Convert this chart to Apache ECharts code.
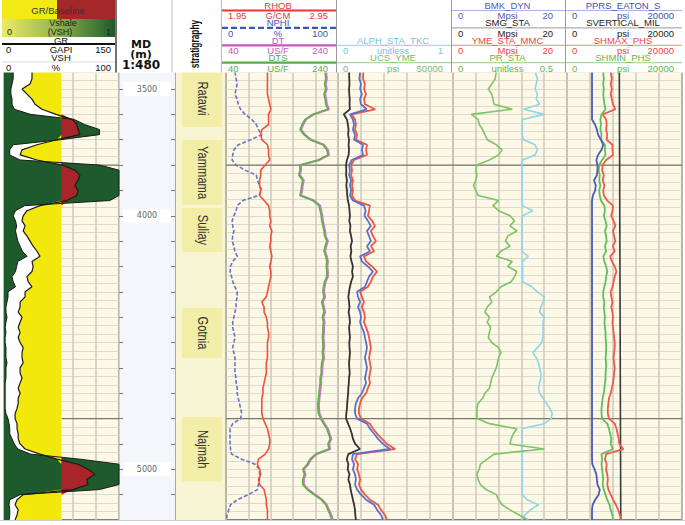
<!DOCTYPE html>
<html><head><meta charset="utf-8"><title>Well log</title>
<script src="https://cdn.jsdelivr.net/npm/echarts@6.0.0/dist/echarts.min.js"></script>
<style>html,body{margin:0;padding:0;background:#fff;}#chart{width:685px;height:525px;}</style>
</head><body><div id="chart"></div>
<script>
// ---------- DATA (depth in m) ----------
const depthM = [3432,3460,3480,3500,3520,3540,3560,3580,3600,3620,
3640,3660,3680,3700,3720,3740,3760,3780,3800,3820,
3840,3860,3880,3900,3920,3940,3960,3980,4000,4020,
4040,4060,4080,4100,4120,4140,4160,4180,4200,4220,
4240,4260,4280,4300,4320,4340,4360,4380,4400,4420,
4440,4460,4480,4500,4520,4540,4560,4580,4600,4620,
4640,4660,4680,4700,4720,4740,4760,4780,4800,4820,
4840,4860,4880,4900,4920,4940,4960,4980,5000,5020,
5040,5060,5080,5100,5120,5140,5160,5180,5200];

const grBaseline = 75;
const grGapi = [36.5,36.5,34,23.5,30,36.5,40.5,49.5,68,89,
95,96.5,99,69,43,23.5,21,43,76,92.5,
99,96.5,92.5,96.5,95,82,47,30,25,23.5,
27.5,25,30,34,38,43,47,36.5,38,36.5,
30,31.5,36.5,27.5,27.5,21,21,18.5,23.5,21,
18.5,21,18.5,21,25,23.5,23.5,25,21,21,
23.5,21,18.5,21,18.5,18.5,17,14.5,14.5,17,
17,18.5,18.5,21,27.5,47,69,96.5,109.5,118.5,
108,109.5,90,25,17,14.5,18.5,17,14.5];

const vshPct = [8,8,7,6,6,7,7,9,23,61,
70,83,83,49,8,5,5,14,83,100,
100,100,100,100,100,92,18,10,8,10,
11,10,11,12,14,16,20,12,11,10,
7,8,10,3.5,3.5,2.6,1.7,1.7,2.6,1.7,
1,1.7,1,1,1.7,1.7,1.7,2.6,1.7,1.7,
1.7,1,1,1,1,1,1,1.7,3.5,4.4,
5,5,7,9,12,23,66,100,100,100,
100,100,83,14,5,4.4,5,5,4.4];

const nphiPct = [8,9,10,9,8,10,11,13,17,23,
27,29,32,22,11,7,6,5.5,9,17,
27,28,30,32,29,15,10,9,7,5.5,
6,7,6,5.5,7,8,10,6,4,3.6,
5,6,8,10,10,9,9,8,7,6,
6,7,8,7,6,7,8,8,8,8,
9,9,10,10,11,12,13,14,13,6,
3.6,3.6,3.6,3.6,4,5,14,26,30,30,
30,29,28,20,10,4,2.5,1,0.5];

const rhob = [2.32,2.32,2.32,2.32,2.32,2.33,2.34,2.35,2.33,2.33,
2.33,2.27,2.26,2.27,2.32,2.33,2.33,2.34,2.30,2.26,
2.26,2.25,2.25,2.26,2.25,2.29,2.33,2.34,2.34,2.35,
2.34,2.36,2.35,2.35,2.34,2.35,2.36,2.35,2.34,2.35,
2.35,2.34,2.33,2.32,2.31,2.27,2.29,2.29,2.31,2.32,
2.32,2.33,2.33,2.32,2.32,2.32,2.32,2.31,2.31,2.31,
2.30,2.29,2.28,2.28,2.27,2.27,2.27,2.27,2.28,2.30,
2.32,2.33,2.34,2.34,2.33,2.30,2.24,2.23,2.25,2.26,
2.24,2.25,2.29,2.30,2.31,2.31,2.32,2.32,2.32];

const dtUsf = [219,220,218,220,217,219,220,224,197,183,
178,174,181,192,215,222,224,207,174,174,
172,179,177,176,174,197,208,210,212,213,
215,217,218,222,219,217,220,222,221,222,
222,218,216,215,217,213,215,217,214,216,
215,215,214,215,215,214,215,213,212,212,
210,210,209,208,207,206,206,207,211,216,
222,225,228,224,226,202,192,187,179,182,
179,179,187,199,212,220,224,228,231];

const dtsUsf = [217,218,216,218,215,217,218,222,195,181,
176,172,179,190,213,220,222,205,172,172,
170,177,175,174,172,195,206,208,210,211,
213,215,216,220,217,215,218,220,219,220,
220,216,214,213,215,211,213,215,212,214,
213,213,212,213,213,212,213,211,210,210,
208,208,207,206,205,204,204,205,209,214,
220,223,226,222,224,200,190,185,177,180,
177,177,185,197,210,218,222,226,229];

// track 4 curves (psi, 0-50000)
const trk4Black = [4800,4900,5000,4800,4900,5100,5000,5200,2500,3900,
4300,4600,4400,4800,4600,4800,4600,3900,3500,3600,
3500,3900,3600,3900,4000,4300,4800,5000,5200,4900,
5400,5200,5700,6100,5500,5800,5400,5900,6500,6100,
6500,5700,5200,4800,4500,4800,5000,4600,5000,5200,
4800,5000,5200,4900,5000,5200,5000,4800,4900,5100,
4800,4700,4500,4400,4200,4000,3900,3600,3500,4400,
5300,6000,6500,7500,9500,4500,3800,4500,4200,5000,
4500,5200,5500,6000,6500,7000,7400,7500,7800];

const trk4Blue = [9600,9300,10000,9600,10400,9600,10000,12500,5200,6500,
7000,6500,7400,7000,10900,10400,10900,6000,4800,5200,
4800,5700,5200,5700,5200,6500,11300,12000,11500,13000,
14300,12600,13500,14300,12600,13900,9600,10400,13000,15200,
13500,12600,11700,8300,8700,9600,8700,9600,10000,9600,
10400,11300,11700,12200,12600,12200,11700,12200,12600,12200,
11700,12200,11300,10400,8700,7800,7400,7400,8300,12600,
13900,15700,17400,19600,22600,6500,6100,7000,6500,7400,
7800,7400,8300,10000,12200,15700,17000,18700,19600];

const trk4Red = [11000,10900,11700,11300,12200,11300,11700,16100,6000,7400,
7800,7400,8300,7800,12600,12200,12600,7000,5700,6100,
5700,6500,6100,6500,6100,7400,13900,13500,13000,14800,
16100,14300,15200,16500,14300,15700,11300,12200,14800,17000,
15200,14300,13000,9600,10400,11300,10400,11300,11700,11300,
12200,13000,13500,13900,14300,13900,13500,13900,14300,13900,
13500,13900,13000,12200,10400,9600,9100,9100,10000,13900,
15200,17000,19100,21300,24800,8300,7400,8700,8300,9100,
9600,9100,10000,11700,13900,17400,18700,20400,21300];

// track 5
const prSta = [0.19,0.185,0.17,0.155,0.17,0.175,0.18,0.26,0.08,0.11,
0.115,0.13,0.14,0.15,0.19,0.215,0.2,0.16,0.105,0.1,
0.105,0.1,0.09,0.1,0.11,0.2,0.175,0.2,0.25,0.27,
0.25,0.28,0.24,0.23,0.25,0.21,0.19,0.26,0.24,0.28,
0.27,0.255,0.21,0.19,0.16,0.17,0.15,0.14,0.16,0.15,
0.165,0.16,0.155,0.17,0.2,0.21,0.2,0.195,0.19,0.18,
0.17,0.165,0.16,0.14,0.13,0.11,0.105,0.105,0.105,0.16,
0.28,0.265,0.255,0.25,0.4,0.18,0.15,0.12,0.115,0.105,
0.11,0.12,0.145,0.19,0.2,0.215,0.25,0.29,0.33];

const trk5Cyan = [0.72,0.74,0.73,0.72,0.74,0.73,0.76,0.62,0.8,0.61,
0.605,0.605,0.605,0.62,0.72,0.74,0.72,0.61,0.605,0.605,
0.605,0.605,0.605,0.605,0.605,0.605,0.61,0.7,0.61,0.605,
0.605,0.605,0.605,0.605,0.605,0.605,0.66,0.61,0.61,0.61,
0.61,0.61,0.69,0.74,0.8,0.79,0.77,0.76,0.8,0.79,
0.79,0.79,0.79,0.78,0.74,0.7,0.73,0.75,0.76,0.77,
0.77,0.76,0.75,0.76,0.79,0.82,0.85,0.87,0.86,0.8,
0.605,0.605,0.605,0.605,0.605,0.605,0.605,0.605,0.605,0.605,
0.605,0.605,0.605,0.605,0.65,0.75,0.68,0.63,0.605];

// track 6 (psi, 0-20000)
const pprsPsi = [4350,4350,4350,4350,4350,4350,4350,4350,4350,4350,
4870,5200,5400,5900,6300,6000,5400,5100,5300,5300,
5200,4700,5000,4900,4500,4350,4350,4350,4350,4350,
4350,4350,4350,4350,4350,4350,4350,4350,4350,4350,
4350,4350,4350,4350,4350,4350,4350,4350,4350,4350,
4350,4350,4350,4350,4350,4350,4350,4350,4350,4350,
4350,4350,4350,4350,4350,4350,4350,4350,4350,4350,
4350,4350,4350,4350,4350,4350,4350,4400,4800,5100,
5200,5300,5700,5500,4900,4450,4350,4350,4350];

const shminPsi = [6300,6400,6300,6400,6300,6400,6500,6700,6000,5800,
5900,5800,6000,5900,6600,6600,6700,6100,5600,5500,
5700,5600,5800,5600,5700,5900,6500,6600,6400,6700,
6900,6600,6800,6900,6600,6800,6300,6500,6800,7000,
6800,6700,6500,6300,6300,6500,6400,6500,6600,6500,
6600,6700,6700,6800,6800,6800,6700,6800,6800,6700,
6700,6600,6500,6400,6200,6100,6000,6000,6100,7000,
7300,7500,7700,7600,8000,6000,6100,6000,6100,6200,
6300,6200,6400,6700,7000,7400,7600,7900,8000];

const shmaxPsi = [7600,7800,7600,7800,7600,7800,8000,8400,6200,6800,
6900,6800,7000,6900,7900,7900,8000,6800,6200,6100,
6400,6200,6500,6300,6400,7000,8000,7900,7700,8100,
8400,8000,8200,8400,8000,8300,7500,7800,8300,8600,
8300,8100,7900,7600,7700,7900,7700,7900,8000,7900,
8000,8100,8200,8300,8300,8200,8100,8200,8300,8200,
8100,8000,7800,7600,7300,7200,7100,7100,7300,8300,
8600,8800,9000,9100,9800,6800,6600,6900,6800,7000,
7100,7000,7200,7600,8000,8500,8900,9200,9400];

const svDepth = [3432, 5200];
const svPsi = [9100, 9350];

const stratNames = ['Ratawi','Yammama','Suliay','Gotnia','Najmah'];
const stratTop  = [3425, 3701, 3969, 4364, 4794];
const stratBase = [3650, 3958, 4143, 4561, 5048];

const depthLabels = [3500, 4000, 5000];
const markDepths = [3800, 4800];

// ---------- CHART ----------
const chart = echarts.init(document.getElementById('chart'), null, {renderer: 'svg'});
const TOP = 63.65, H = 456.35;
const CREAM = '#fdf9e6';
const FONT = '"Liberation Sans", Arial, sans-serif';
const HFS = 9.5; // header font size

function gridDef(left, width, bg, border) {
  return {left, width, top: TOP, height: H, show: true, backgroundColor: bg,
    borderColor: '#555', borderWidth: border ? 1.5 : 0};
}
const grid = [
  gridDef(4, 115, CREAM, true),
  gridDef(119, 56, '#f5f6fa', false),
  gridDef(175, 50, '#f8f5d2', false),
  gridDef(226, 112, CREAM, true),
  gridDef(338, 115, CREAM, true),
  gridDef(453, 114, CREAM, true),
  gridDef(567, 115, CREAM, true)
];

const xGrid = gi => ({type: 'value', gridIndex: gi, min: 0, max: 5, interval: 1,
  axisLine: {show: false}, axisTick: {show: false}, axisLabel: {show: false},
  splitLine: {show: true, lineStyle: {color: '#c9c8bd', width: 1.5}}});
const xHid = (gi, min, max) => ({type: 'value', gridIndex: gi, min, max, show: false});
const xAxis = [
  xGrid(0), xHid(0, 0, 150), xHid(0, 0, 100),
  xHid(1, 0, 1), xHid(2, 0, 1),
  xGrid(3), xHid(3, 1.95, 2.95), xHid(3, 0, 100), xHid(3, 40, 240),
  xGrid(4), xHid(4, 0, 50000),
  xGrid(5), xHid(5, 0, 0.5), xHid(5, 0, 1),
  xGrid(6), xHid(6, 0, 20000)
];

const yBase = {type: 'value', min: 3400, max: 5200, inverse: true, interval: 100 / 3,
  axisLine: {show: false}, axisTick: {show: false}, axisLabel: {show: false},
  splitLine: {show: true, lineStyle: {color: '#dddbcf', width: 1}}};
const yAxis = [
  Object.assign({}, yBase, {gridIndex: 0}),
  Object.assign({}, yBase, {gridIndex: 1, interval: 100, splitLine: {show: false},
    axisTick: {show: true, inside: true, length: 4, lineStyle: {color: '#777'}}}),
  Object.assign({}, yBase, {gridIndex: 1, position: 'right', interval: 100, splitLine: {show: false},
    axisLine: {show: true, lineStyle: {color: '#aaa', width: 1}},
    axisTick: {show: true, inside: true, length: 4, lineStyle: {color: '#777'}}}),
  Object.assign({}, yBase, {gridIndex: 2, splitLine: {show: false}}),
  Object.assign({}, yBase, {gridIndex: 3}),
  Object.assign({}, yBase, {gridIndex: 4}),
  Object.assign({}, yBase, {gridIndex: 5}),
  Object.assign({}, yBase, {gridIndex: 6})
];

const pairs = (vals, deps) => vals.map((v, i) => [v, (deps || depthM)[i]]);
function curve(name, vals, xi, yi, color, width, opts) {
  opts = opts || {};
  return {type: 'line', name, data: pairs(vals, opts.deps), xAxisIndex: xi, yAxisIndex: yi,
    symbol: 'none', showSymbol: false, silent: true, animation: false, z: opts.z || 4,
    lineStyle: {color, width, type: opts.dash || 'solid'}};
}
function fill(name, xi, yi, color, ptsFn, z) {
  return {type: 'custom', name, xAxisIndex: xi, yAxisIndex: yi, z: z || 2, silent: true, animation: false,
    data: [[0, depthM[0]]],
    renderItem: (params, api) => ({type: 'polygon',
      shape: {points: ptsFn().map(p => api.coord(p))}, style: {fill: color}})};
}
function darkLines(xi, yi) {
  return {type: 'custom', xAxisIndex: xi, yAxisIndex: yi, z: 1, silent: true, animation: false,
    data: markDepths.map(d => [0, d]),
    renderItem: (params, api) => {
      const cs = params.coordSys;
      const y = api.coord([0, api.value(1)])[1];
      return {type: 'line', shape: {x1: cs.x, y1: y, x2: cs.x + cs.width, y2: y},
        style: {stroke: '#77776e', lineWidth: 1.2}};
    }};
}
const n = depthM.length;
const dTop = depthM[0], dBot = depthM[n - 1];

const series = [
  darkLines(0, 0),
  fill('left white', 1, 0, '#ffffff', () => [[0, dTop], [grBaseline, dTop], [grBaseline, dBot], [0, dBot]]),
  fill('Vshale', 2, 0, '#1f5a2c', () => pairs(vshPct).concat([[0, dBot], [0, dTop]])),
  fill('GR clean', 1, 0, '#f3e80c', () => grGapi.map((g, i) => [Math.min(g, grBaseline), depthM[i]])
      .concat(depthM.map(d => [grBaseline, d]).reverse())),
  fill('GR shale', 1, 0, '#a8262a', () => grGapi.map((g, i) => [Math.max(g, grBaseline), depthM[i]])
      .concat(depthM.map(d => [grBaseline, d]).reverse())),
  curve('VSH', vshPct, 2, 0, '#1a1a1a', 1),
  curve('GR', grGapi, 1, 0, '#1a1a1a', 1.2),
  {type: 'custom', xAxisIndex: 3, yAxisIndex: 1, z: 3, silent: true, animation: false,
    data: depthLabels.map(d => [0.5, d]),
    renderItem: (params, api) => {
      const p = api.coord([0.5, api.value(1)]);
      return {type: 'group', children: [
        {type: 'rect', shape: {x: p[0] - 24, y: p[1] - 7, width: 48, height: 14}, style: {fill: '#ffffff'}},
        {type: 'text', x: p[0], y: p[1], style: {text: String(api.value(1)), fill: '#666',
          font: '8px "DejaVu Sans", sans-serif', align: 'center', verticalAlign: 'middle'}}]};
    }},
  {type: 'custom', xAxisIndex: 4, yAxisIndex: 3, z: 3, silent: true, animation: false,
    data: stratNames.map((s, i) => [0.5, stratTop[i]]),
    renderItem: (params, api) => {
      const i = params.dataIndex;
      const a = api.coord([0.14, stratTop[i]]), b = api.coord([0.94, stratBase[i]]);
      return {type: 'group', children: [
        {type: 'rect', shape: {x: a[0], y: a[1], width: b[0] - a[0], height: b[1] - a[1]}, style: {fill: '#f2eea8'}},
        {type: 'text', x: (a[0] + b[0]) / 2, y: (a[1] + b[1]) / 2, rotation: -Math.PI / 2, scaleX: 0.8,
          style: {text: stratNames[i], fill: '#333', font: '14px ' + FONT, align: 'center', verticalAlign: 'middle'}}]};
    }},
  darkLines(5, 4),
  curve('NPHI', nphiPct, 7, 4, '#6275c8', 1.6, {dash: [4, 2]}),
  curve('RHOB', rhob, 6, 4, '#f0503c', 1.6),
  curve('DT', dtUsf, 8, 4, '#c878c8', 2),
  curve('DTS', dtsUsf, 8, 4, '#62b048', 1.6, {z: 5}),
  darkLines(9, 5),
  curve('T4 red', trk4Red, 10, 5, '#f0553f', 1.8),
  curve('T4 blue', trk4Blue, 10, 5, '#5a6fcf', 1.8, {z: 5}),
  curve('T4 black', trk4Black, 10, 5, '#333333', 1.8, {z: 6}),
  darkLines(11, 6),
  curve('cyan', trk5Cyan, 13, 6, '#8fd6e6', 1.6),
  curve('PR_STA', prSta, 12, 6, '#7cc464', 1.6),
  darkLines(14, 7),
  curve('SVERTICAL_MIL', svPsi, 15, 7, '#3a3a3a', 1.6, {deps: svDepth}),
  curve('SHMAX_PHS', shmaxPsi, 15, 7, '#f05a4a', 1.8),
  curve('SHMIN_PHS', shminPsi, 15, 7, '#5fc05a', 1.8, {z: 5}),
  curve('PPRS_EATON_S', pprsPsi, 15, 7, '#4a5ab8', 1.8, {z: 6})
];

// ---------- HEADER (graphic) ----------
const T = (text, x, y, color, o) => {
  o = o || {};
  const el = {type: 'text', x, y, z: 102,
    style: {text, fill: color, font: (o.bold ? 'bold ' : '') + (o.size || HFS) + 'px ' + (o.family || FONT),
      align: o.align || 'center', verticalAlign: 'middle'}};
  if (o.rot) el.rotation = o.rot;
  if (o.sx) el.scaleX = o.sx;
  return el;
};
const L = (x1, y1, x2, y2, color, w, dash) => ({type: 'line', z: 101, shape: {x1, y1, x2, y2},
  style: {stroke: color, lineWidth: w, lineDash: dash || null}});
const R = (x, y, w, h, fill, z) => ({type: 'rect', z: z || 100, shape: {x, y, width: w, height: h}, style: {fill}});
const MDF = '"DejaVu Sans", sans-serif';

const hdr = [
  R(0, 0, 685, 72.5, '#ffffff'),
  R(0, 520.6, 685, 5, '#ffffff'),
  L(0, 520.5, 685, 520.5, '#cfcfcf', 1),
  R(2, 0, 55, 19, '#f2ea12', 101), R(57, 0, 58, 19, '#a4282a', 101),
  T('GR/Baseline', 58, 10, '#333'),
  {type: 'rect', z: 101, shape: {x: 2, y: 19, width: 113, height: 18},
    style: {fill: new echarts.graphic.LinearGradient(0, 0, 1, 0, [
      {offset: 0, color: '#eeea66'}, {offset: 0.5, color: '#8fb24f'}, {offset: 1, color: '#1d5b2b'}])}},
  T('Vshale', 63, 23.2, '#222', {size: 9}),
  T('0', 7, 32.2, '#222', {align: 'left', size: 9}), T('(VSH)', 60, 32.2, '#222', {size: 9}),
  T('1', 111, 32.2, '#222', {align: 'right', size: 9}),
  T('GR', 61, 40.3, '#111'), L(2, 44, 115, 44, '#111', 2),
  T('0', 6, 49.8, '#111', {align: 'left'}), T('GAPI', 61, 49.8, '#111'), T('150', 111, 49.8, '#111', {align: 'right'}),
  T('VSH', 61, 57.2, '#111'), L(2, 62, 115, 62, '#dddddd', 1),
  T('0', 6, 67.6, '#111', {align: 'left'}), T('%', 56, 67.6, '#111'), T('100', 111, 67.6, '#111', {align: 'right'}),
  T('MD', 141, 44.5, '#111', {bold: true, size: 11, family: MDF}),
  T('(m)', 141, 54.2, '#111', {bold: true, size: 11, family: MDF}),
  T('1:480', 141, 64.5, '#111', {bold: true, size: 12, family: MDF}),
  T('stratigraphy', 195, 44, '#111', {bold: true, size: 12, rot: Math.PI / 2, sx: 0.7}),
  L(116, 0, 116, 72.5, '#444', 1.5), L(172, 0, 172, 72.5, '#bbbbbb', 1), L(221.5, 0, 221.5, 72.5, '#bbbbbb', 1),
  L(336.5, 0, 336.5, 72.5, '#9a9a9a', 1), L(451.5, 0, 451.5, 72.5, '#9a9a9a', 1), L(565.5, 0, 565.5, 72.5, '#9a9a9a', 1)
];

const hdrTracks = [
  {x0: 222, x1: 336, rows: [
    {n: 'RHOB', c: '#e8383a', l: '1.95', u: 'G/CM', r: '2.95', lw: 2.2},
    {n: 'NPHI', c: '#3b56b5', l: '0', u: '%', r: '100', lw: 2.2, dash: [6, 3]},
    {n: 'DT', c: '#c25ab8', l: '40', u: 'US/F', r: '240', lw: 2.2},
    {n: 'DTS', c: '#52b043', l: '40', u: 'US/F', r: '240', lw: 2.2}]},
  {x0: 337, x1: 451, rows: [null, null,
    {n: 'ALPH_STA_TKC', c: '#6ec6dc', l: '0', u: 'unitless', r: '1', lw: 1.2, lc: '#a6dbe9'},
    {n: 'UCS_YME', c: '#72c15e', l: '0', u: 'psi', r: '50000', lw: 1.2, lc: '#a8d89a'}]},
  {x0: 452, x1: 565, rows: [
    {n: 'BMK_DYN', c: '#4a5cb5', l: '0', u: 'Mpsi', r: '20', lw: 1.2, lc: '#aab4e2', rx: 12},
    {n: 'SMG_STA', c: '#222222', l: '0', u: 'Mpsi', r: '20', lw: 1, lc: '#9a9a9a', rx: 12},
    {n: 'YME_STA_MMC', c: '#ee4444', l: '0', u: 'Mpsi', r: '20', lw: 1.2, lc: '#f3a0a0', rx: 12},
    {n: 'PR_STA', c: '#5cb84a', l: '0', u: 'unitless', r: '0.5', lw: 1.2, lc: '#a8d89a', rx: 12}]},
  {x0: 566, x1: 682, rows: [
    {n: 'PPRS_EATON_S', c: '#3d4fb0', l: '0', u: 'psi', r: '20000', lw: 1.2, lc: '#aab4e2'},
    {n: 'SVERTICAL_MIL', c: '#222222', l: '0', u: 'psi', r: '20000', lw: 1, lc: '#9a9a9a'},
    {n: 'SHMAX_PHS', c: '#ee4444', l: '0', u: 'psi', r: '20000', lw: 1.2, lc: '#f3a0a0'},
    {n: 'SHMIN_PHS', c: '#5cb84a', l: '0', u: 'psi', r: '20000', lw: 1.2, lc: '#a8d89a'}]}
];
hdrTracks.forEach(t => {
  const cx = (t.x0 + t.x1) / 2 - 1;
  t.rows.forEach((r, k) => {
    if (!r) return;
    const top = k * 17.4;
    hdr.push(T(r.n, cx, top + 5.4, r.c));
    hdr.push(L(t.x0, top + 10.5, t.x1, top + 10.5, r.lc || r.c, r.lw, r.dash));
    hdr.push(T(r.l, t.x0 + 6, top + 15.8, r.c, {align: 'left'}));
    hdr.push(T(r.u, cx, top + 15.8, r.c));
    hdr.push(T(r.r, t.x1 - (r.rx || 8), top + 15.8, r.c, {align: 'right'}));
  });
});

chart.setOption({
  animation: false,
  backgroundColor: '#ffffff',
  grid, xAxis, yAxis, series,
  graphic: {elements: hdr}
});
</script>
</body></html>
